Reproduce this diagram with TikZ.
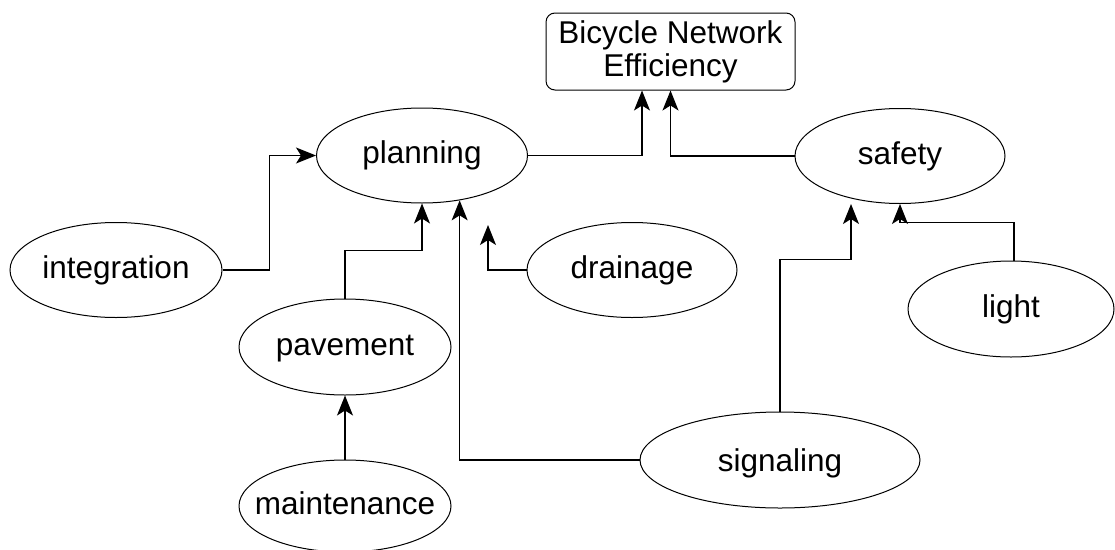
\documentclass[tikz,border=0pt]{standalone}
\usepackage{fontspec}
\setmainfont{Liberation Sans}
\usetikzlibrary{arrows.meta,shapes.geometric}
\begin{document}
\begin{tikzpicture}[x=1pt,y=-1pt,
  every node/.style={font=\fontsize{31.5}{33}\selectfont, inner sep=0pt},
  oval/.style={draw, ellipse, line width=1pt, minimum width=211pt, minimum height=95pt, text height=22pt, text depth=6pt},
  goalbox/.style={draw, rounded corners=9pt, line width=1pt, minimum width=249pt, minimum height=77pt, align=center},
  link/.style={line width=1.2pt, -{Stealth[length=20pt,width=16pt,inset=5pt]}}]
\useasboundingbox (0,0) rectangle (1115,549);
\clip (0,0) rectangle (1115,549);
\node[goalbox] (goal) at (670.5,51.5) {Bicycle Network\\Efficiency};
\node[oval] (planning) at (422,155.5) {planning};
\node[oval, minimum width=210pt] (safety) at (900,156) {safety};
\node[oval, minimum width=212pt] (integration) at (116,270) {\makebox[0pt]{integration}};
\node[oval, minimum width=210pt] (drainage) at (632,270) {drainage};
\node[oval, minimum width=212pt, minimum height=96pt] (pavement) at (345,347) {pavement};
\node[oval, minimum width=206pt, minimum height=96pt] (light) at (1011,309) {light};
\node[oval, minimum width=280pt, minimum height=96pt] (signaling) at (780,460) {\raisebox{-3pt}{signaling}};
\node[oval, minimum width=212pt, minimum height=92pt] (maintenance) at (345,506) {\makebox[0pt]{maintenance}};
\coordinate (dtip) at (488,225);
\coordinate (stip) at (851,204);
\draw[link] (planning.east) -| ([xshift=-28.5pt]goal.south);
\draw[link] (safety.west) -| (goal.south);
\draw[link] (integration.east) -- ++(47,0) |- (planning.west);
\draw[link] (pavement.north) -- ++(0,-48) -| (planning.south);
\draw[link] (drainage.west) -| (dtip);
\draw[link] (signaling.west) -| (planning.-50.3);
\draw[link] (signaling.north) -- ++(0,-152) -| (stip);
\draw[link] ([xshift=3pt]light.north) -- ++(0,-38) -| (safety.south);
\draw[link] (maintenance.north) -- (pavement.south);
\end{tikzpicture}
\end{document}
